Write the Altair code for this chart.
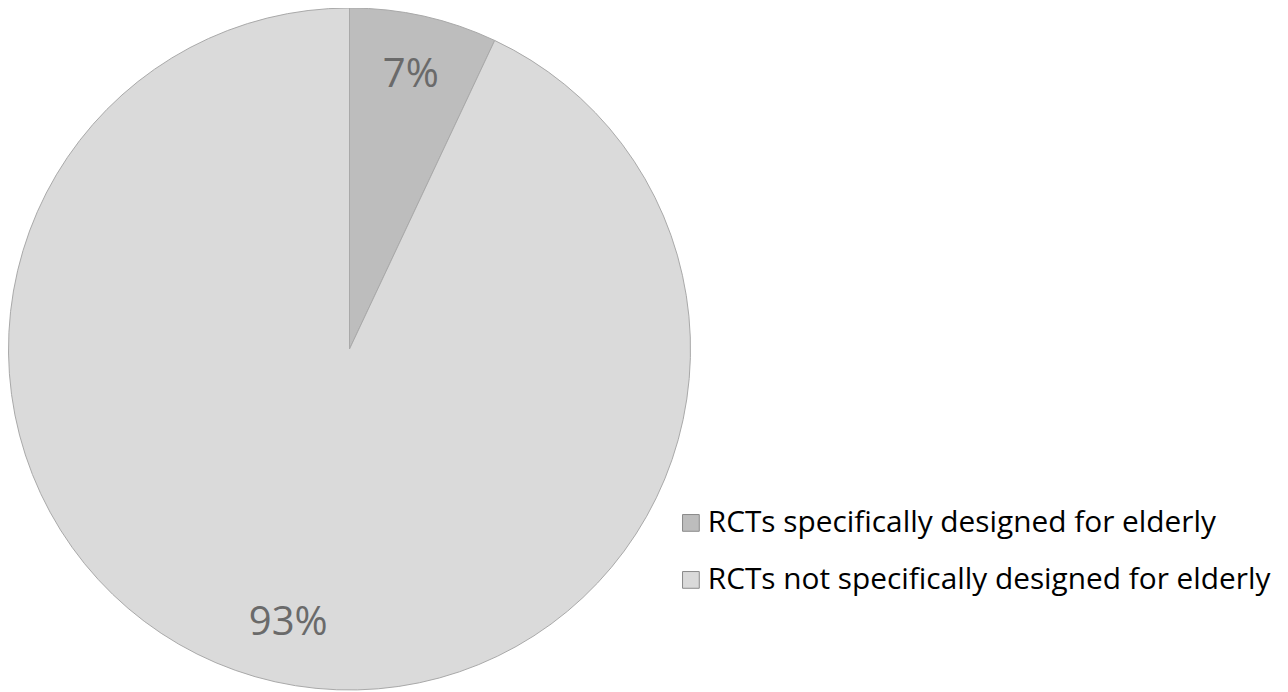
import altair as alt
import pandas as pd

categories = ["RCTs specifically designed for elderly", "RCTs not specifically designed for elderly"]
values = [7, 93]
labels = ["7%", "93%"]
colors = ["#bdbdbd", "#dadada"]

df = pd.DataFrame({"category": categories, "value": values, "label": labels, "order": [0, 1]})

base = alt.Chart(df).encode(
    theta=alt.Theta("value:Q", stack=True),
    order=alt.Order("order:Q"),
)

pie = base.mark_arc(outerRadius=341, stroke="#a9a9a9", strokeWidth=1).encode(
    color=alt.Color(
        "category:N",
        scale=alt.Scale(domain=categories, range=colors),
        sort=categories,
        legend=alt.Legend(
            title=None,
            orient="none",
            legendX=668,
            legendY=500,
            symbolType="square",
            symbolSize=280,
            symbolStrokeColor="#8a8a8a",
            symbolStrokeWidth=1,
            labelFont="Open Sans",
            labelFontSize=29.8,
            labelColor="#000000",
            labelLimit=800,
            labelOffset=2,
            rowPadding=26,
        ),
    ),
    x=alt.value(341.5),
    y=alt.value(341),
)

text = base.mark_text(radius=281, font="Open Sans", fontSize=40, color="#6a6a6a").encode(
    text="label:N",
    x=alt.value(341.5),
    y=alt.value(341),
)

chart = (pie + text).properties(
    width=1272, height=684, autosize=alt.AutoSizeParams(type="none"), padding=0
).configure_view(stroke=None)

chart.save("out.html", embed_options={"renderer": "svg", "actions": False})
